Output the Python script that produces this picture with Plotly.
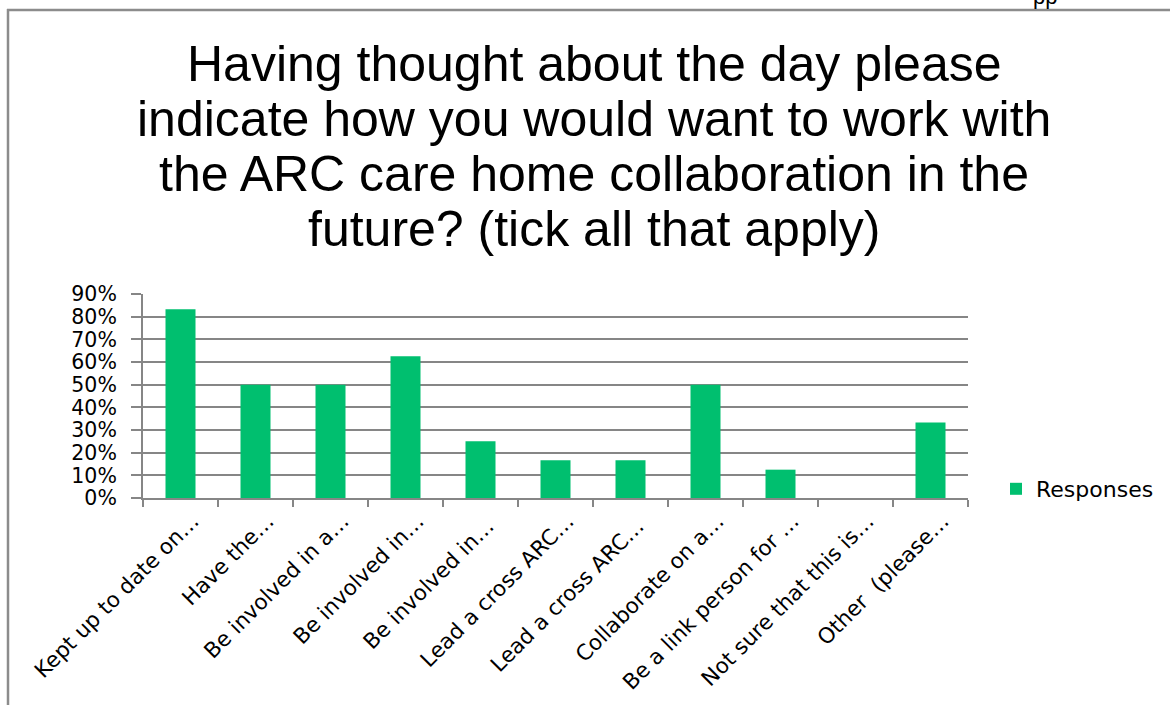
import plotly.graph_objects as go

# Survey responses (share of respondents ticking each option)
categories = [
    "Kept up to date on…",
    "Have the…",
    "Be involved in a…",
    "Be involved in…",
    "Be involved in… ",
    "Lead a cross ARC…",
    "Lead a cross ARC… ",
    "Collaborate on a…",
    "Be a link person for …",
    "Not sure that this is…",
    "Other  (please…",
]
responses = [0.833, 0.50, 0.50, 0.625, 0.25, 0.167, 0.167, 0.50, 0.125, 0.0, 0.333]
series_name = "Responses"

title_lines = [
    "Having thought about the day please",
    "indicate how you would want to work with",
    "the ARC care home collaboration in the",
    "future? (tick all that apply)",
]

W, H = 1170, 705
ML, MR, MT, MB = 143, 202, 294, 207
PW = W - ML - MR
PH = H - MT - MB

GREEN = "#00BF6F"
GRID = "#868686"
BORDER = "#8C8C8C"


def px_x(px):
    return (px - ML) / PW


def px_y(py):
    return (H - MB - py) / PH


fig = go.Figure()
fig.add_trace(go.Bar(
    x=categories,
    y=responses,
    name=series_name,
    marker=dict(color=GREEN, line=dict(width=0)),
    showlegend=True,
))

annotations = []
baselines = [82, 137, 192, 247]
for line, base in zip(title_lines, baselines):
    annotations.append(dict(
        text=line, xref="paper", yref="paper",
        x=px_x(594), y=px_y(base + 12),
        xanchor="center", yanchor="bottom", showarrow=False,
        font=dict(family="Liberation Sans, Arial", size=50, color="#000000"),
    ))

# top-right text cut off by the slide edge
annotations.append(dict(
    text="pp", xref="paper", yref="paper",
    x=px_x(1045), y=px_y(10.5), xanchor="center", yanchor="bottom",
    showarrow=False,
    font=dict(family="Liberation Sans, Arial", size=22, color="#000000"),
))

shapes = [
    dict(type="line", xref="paper", yref="paper",
         x0=px_x(7), x1=px_x(1180), y0=px_y(10), y1=px_y(10),
         line=dict(color=BORDER, width=2.5)),
    dict(type="line", xref="paper", yref="paper",
         x0=px_x(8), x1=px_x(8), y0=px_y(9), y1=px_y(720),
         line=dict(color=BORDER, width=2.5)),
]

fig.update_layout(
    width=W, height=H,
    margin=dict(l=ML, r=MR, t=MT, b=MB, pad=0, autoexpand=False),
    paper_bgcolor="white", plot_bgcolor="white",
    bargap=0.6,
    font=dict(family="DejaVu Sans", size=20, color="#000000"),
    annotations=annotations,
    shapes=shapes,
    legend=dict(
        xref="container", yref="container",
        x=996 / W, y=1 - 489 / H, xanchor="left", yanchor="middle",
        font=dict(family="DejaVu Sans", size=22, color="#000000"),
        bgcolor="rgba(0,0,0,0)",
    ),
    xaxis=dict(
        type="category",
        automargin=False,
        tickangle=-45,
        ticks="outside", tickson="boundaries", ticklen=7,
        tickcolor=GRID, tickwidth=2,
        showline=True, linecolor=GRID, linewidth=2,
        showgrid=False,
        ticklabelshift=12,
        tickfont=dict(family="DejaVu Sans", size=21.5, color="#000000"),
        fixedrange=True,
    ),
    yaxis=dict(
        automargin=False,
        range=[0, 0.9], dtick=0.1, tick0=0, tickformat=".0%",
        ticks="outside", ticklen=10, tickcolor=GRID, tickwidth=2,
        showline=True, linecolor=GRID, linewidth=2,
        showgrid=True, gridcolor=GRID, gridwidth=2,
        zeroline=False,
        ticklabelstandoff=10,
        tickfont=dict(family="DejaVu Sans", size=20.5, color="#000000"),
        fixedrange=True,
    ),
)

fig.write_html("out.html")
